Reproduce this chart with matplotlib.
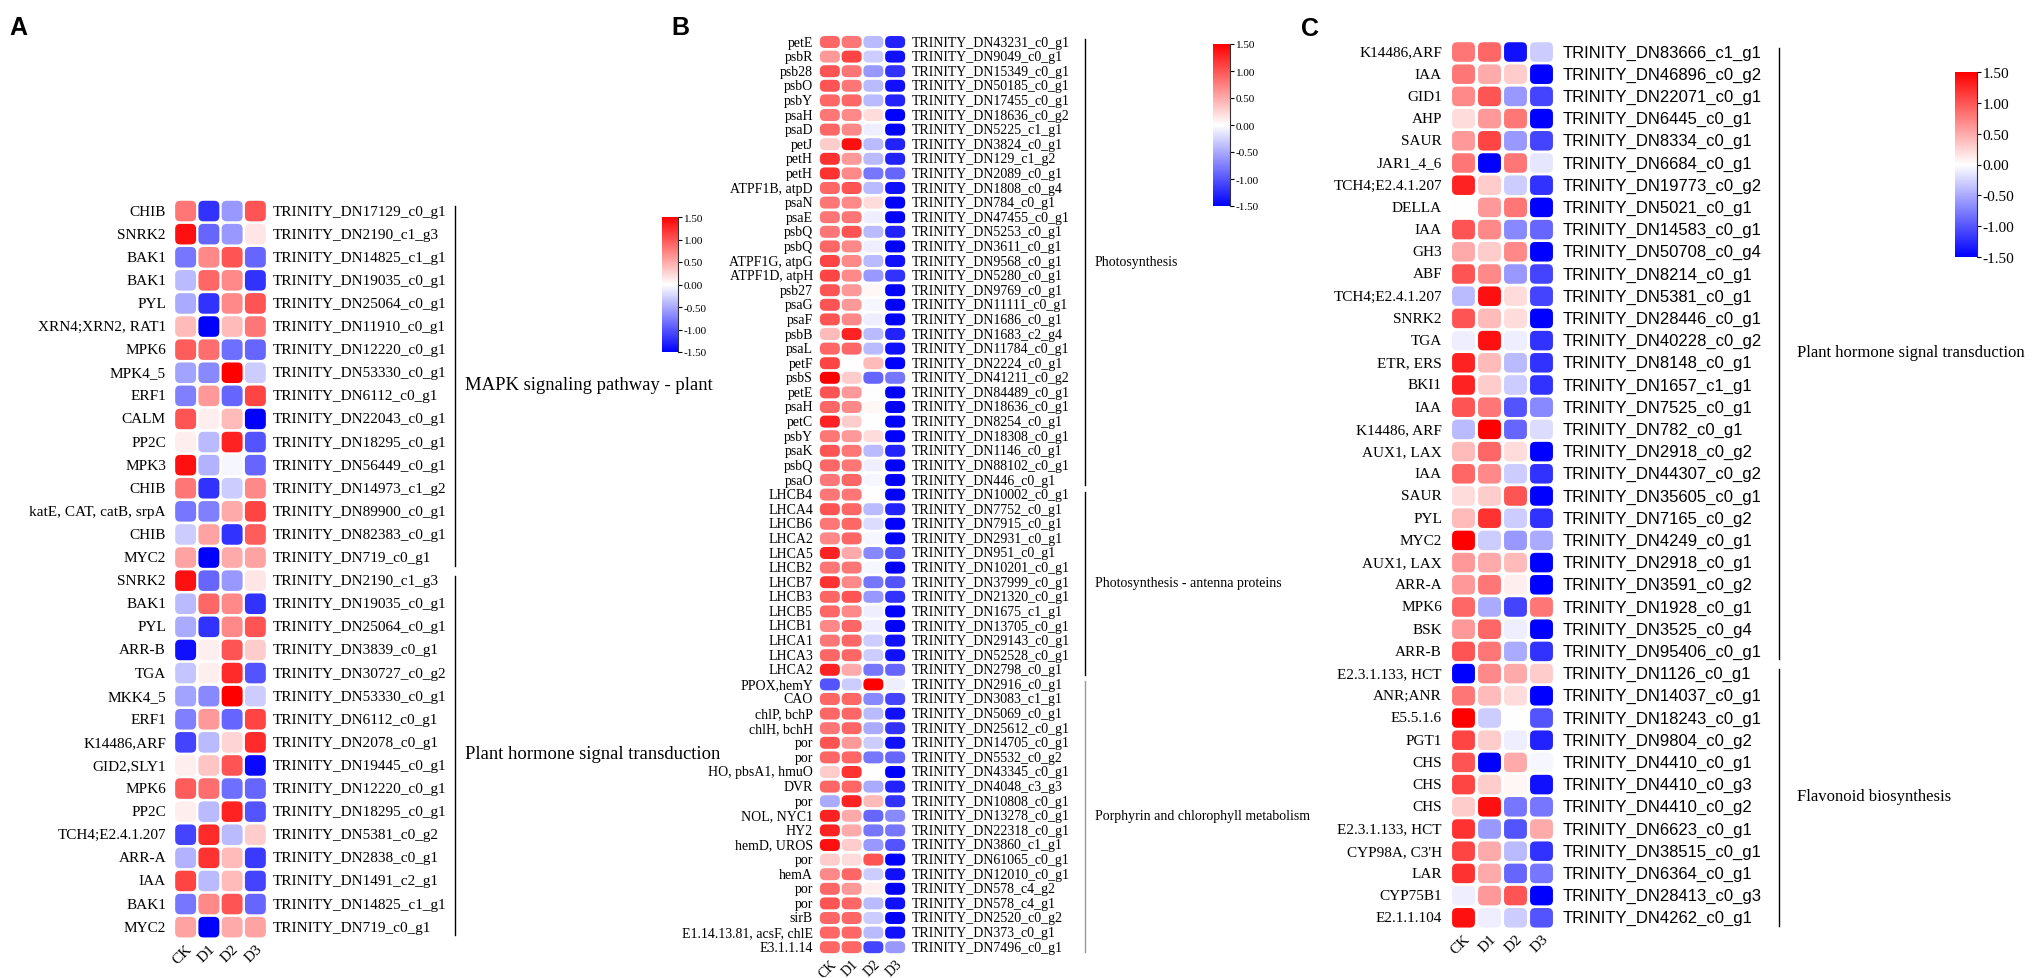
import numpy as np
import matplotlib.pyplot as plt
import matplotlib.transforms as mtransforms
from matplotlib.colors import LinearSegmentedColormap, Normalize
from matplotlib.patches import FancyBboxPatch
from matplotlib.cm import ScalarMappable

plt.rcParams['axes.unicode_minus'] = False
SERIF = 'Liberation Serif'
SANS = 'Liberation Sans'

cols = ['CK', 'D1', 'D2', 'D3']

# ---------------- panel A ----------------
a_genes = ['CHIB', 'SNRK2', 'BAK1', 'BAK1', 'PYL', 'XRN4;XRN2, RAT1', 'MPK6', 'MPK4_5',
           'ERF1', 'CALM', 'PP2C', 'MPK3', 'CHIB', 'katE, CAT, catB, srpA', 'CHIB', 'MYC2',
           'SNRK2', 'BAK1', 'PYL', 'ARR-B', 'TGA', 'MKK4_5', 'ERF1', 'K14486,ARF',
           'GID2,SLY1', 'MPK6', 'PP2C', 'TCH4;E2.4.1.207', 'ARR-A', 'IAA', 'BAK1', 'MYC2']
a_ids = ['DN17129_c0_g1', 'DN2190_c1_g3', 'DN14825_c1_g1', 'DN19035_c0_g1', 'DN25064_c0_g1',
         'DN11910_c0_g1', 'DN12220_c0_g1', 'DN53330_c0_g1', 'DN6112_c0_g1', 'DN22043_c0_g1',
         'DN18295_c0_g1', 'DN56449_c0_g1', 'DN14973_c1_g2', 'DN89900_c0_g1', 'DN82383_c0_g1',
         'DN719_c0_g1', 'DN2190_c1_g3', 'DN19035_c0_g1', 'DN25064_c0_g1', 'DN3839_c0_g1',
         'DN30727_c0_g2', 'DN53330_c0_g1', 'DN6112_c0_g1', 'DN2078_c0_g1', 'DN19445_c0_g1',
         'DN12220_c0_g1', 'DN18295_c0_g1', 'DN5381_c0_g2', 'DN2838_c0_g1', 'DN1491_c2_g1',
         'DN14825_c1_g1', 'DN719_c0_g1']
a_vals = [[0.8, -1.2, -0.6, 1.0], [1.4, -0.9, -0.6, 0.15], [-0.8, 0.7, 1.0, -0.9],
          [-0.4, 0.9, 0.7, -1.2], [-0.5, -1.2, 0.7, 1.0], [0.4, -1.5, 0.4, 0.8],
          [0.95, 0.85, -0.85, -0.9], [-0.55, -0.7, 1.5, -0.3], [-0.75, 0.6, -0.9, 1.1],
          [1.0, 0.1, 0.4, -1.5], [0.1, -0.4, 1.3, -1.0], [1.4, -0.45, -0.05, -0.9],
          [0.8, -1.2, -0.3, 0.7], [-0.8, -0.75, 0.5, 1.1], [-0.3, 0.55, -1.2, 0.95],
          [0.55, -1.5, 0.5, 0.55], [1.4, -0.9, -0.6, 0.15], [-0.4, 0.9, 0.7, -1.2],
          [-0.5, -1.2, 0.7, 1.0], [-1.4, 0.1, 1.0, 0.3], [-0.35, 0.1, 1.25, -1.0],
          [-0.55, -0.7, 1.5, -0.3], [-0.75, 0.6, -0.9, 1.1], [-1.1, -0.4, 0.25, 1.25],
          [0.1, 0.35, 1.0, -1.45], [0.95, 0.85, -0.85, -0.9], [0.1, -0.4, 1.3, -1.0],
          [-1.1, 1.25, -0.4, 0.3], [-0.45, 1.2, 0.4, -1.15], [1.1, -0.4, 0.4, -1.1],
          [-0.8, 0.7, 1.0, -0.9], [0.55, -1.5, 0.5, 0.55]]
a_groups = [('MAPK signaling pathway - plant', 0, 15), ('Plant hormone signal transduction', 16, 31)]

# ---------------- panel B ----------------
b_genes = ['petE', 'psbR', 'psb28', 'psbO', 'psbY', 'psaH', 'psaD', 'petJ', 'petH', 'petH',
           'ATPF1B, atpD', 'psaN', 'psaE', 'psbQ', 'psbQ', 'ATPF1G, atpG', 'ATPF1D, atpH',
           'psb27', 'psaG', 'psaF', 'psbB', 'psaL', 'petF', 'psbS', 'petE', 'psaH', 'petC',
           'psbY', 'psaK', 'psbQ', 'psaO',
           'LHCB4', 'LHCA4', 'LHCB6', 'LHCA2', 'LHCA5', 'LHCB2', 'LHCB7', 'LHCB3', 'LHCB5',
           'LHCB1', 'LHCA1', 'LHCA3', 'LHCA2',
           'PPOX,hemY', 'CAO', 'chlP, bchP', 'chlH, bchH', 'por', 'por', 'HO, pbsA1, hmuO',
           'DVR', 'por', 'NOL, NYC1', 'HY2', 'hemD, UROS', 'por', 'hemA', 'por', 'por', 'sirB',
           'E1.14.13.81, acsF, chlE', 'E3.1.1.14']
b_ids = ['DN43231_c0_g1', 'DN9049_c0_g1', 'DN15349_c0_g1', 'DN50185_c0_g1', 'DN17455_c0_g1',
         'DN18636_c0_g2', 'DN5225_c1_g1', 'DN3824_c0_g1', 'DN129_c1_g2', 'DN2089_c0_g1',
         'DN1808_c0_g4', 'DN784_c0_g1', 'DN47455_c0_g1', 'DN5253_c0_g1', 'DN3611_c0_g1',
         'DN9568_c0_g1', 'DN5280_c0_g1', 'DN9769_c0_g1', 'DN11111_c0_g1', 'DN1686_c0_g1',
         'DN1683_c2_g4', 'DN11784_c0_g1', 'DN2224_c0_g1', 'DN41211_c0_g2', 'DN84489_c0_g1',
         'DN18636_c0_g1', 'DN8254_c0_g1', 'DN18308_c0_g1', 'DN1146_c0_g1', 'DN88102_c0_g1',
         'DN446_c0_g1',
         'DN10002_c0_g1', 'DN7752_c0_g1', 'DN7915_c0_g1', 'DN2931_c0_g1', 'DN951_c0_g1',
         'DN10201_c0_g1', 'DN37999_c0_g1', 'DN21320_c0_g1', 'DN1675_c1_g1', 'DN13705_c0_g1',
         'DN29143_c0_g1', 'DN52528_c0_g1', 'DN2798_c0_g1',
         'DN2916_c0_g1', 'DN3083_c1_g1', 'DN5069_c0_g1', 'DN25612_c0_g1', 'DN14705_c0_g1',
         'DN5532_c0_g2', 'DN43345_c0_g1', 'DN4048_c3_g3', 'DN10808_c0_g1', 'DN13278_c0_g1',
         'DN22318_c0_g1', 'DN3860_c1_g1', 'DN61065_c0_g1', 'DN12010_c0_g1', 'DN578_c4_g2',
         'DN578_c4_g1', 'DN2520_c0_g2', 'DN373_c0_g1', 'DN7496_c0_g1']
b_vals = [[0.9, 0.8, -0.4, -1.3], [0.6, 1.1, -0.3, -1.4], [1.0, 0.8, -0.6, -1.2],
          [1.0, 0.8, -0.4, -1.4], [0.9, 0.9, -0.4, -1.3], [0.8, 0.7, 0.2, -1.5],
          [0.9, 0.7, -0.1, -1.5], [0.3, 1.4, -0.4, -1.3], [1.2, 0.6, -0.4, -1.3],
          [1.2, 0.7, -0.8, -0.9], [0.9, 1.0, -0.4, -1.4], [0.8, 0.7, 0.2, -1.5],
          [0.8, 0.8, -0.1, -1.5], [0.8, 1.0, -0.4, -1.3], [0.9, 0.7, -0.1, -1.5],
          [1.1, 0.7, -0.4, -1.4], [1.1, 0.7, -0.6, -1.2], [1.0, 0.6, 0.05, -1.5],
          [1.0, 0.6, -0.05, -1.5], [1.0, 0.7, -0.1, -1.5], [0.4, 1.3, -0.4, -1.3],
          [0.9, 0.9, -0.4, -1.4], [1.1, 0.0, 0.4, -1.5], [1.5, 0.3, -0.9, -0.8],
          [1.0, 0.6, 0.0, -1.5], [0.9, 0.7, 0.05, -1.5], [1.3, 0.3, 0.0, -1.5],
          [0.8, 0.6, 0.2, -1.5], [1.0, 0.8, -0.4, -1.3], [0.9, 0.8, -0.1, -1.5],
          [0.8, 0.9, -0.05, -1.5],
          [0.8, 0.8, 0.0, -1.5], [1.0, 0.9, -0.4, -1.3], [0.8, 0.9, -0.2, -1.5],
          [0.7, 0.9, -0.05, -1.5], [1.3, 0.5, -0.7, -1.0], [0.8, 0.8, -0.05, -1.5],
          [1.2, 0.7, -0.8, -1.0], [0.9, 1.0, -0.6, -1.2], [0.9, 0.7, -0.1, -1.5],
          [0.7, 0.9, -0.1, -1.5], [0.8, 0.9, -0.3, -1.4], [0.9, 0.9, -0.3, -1.4],
          [1.3, 0.5, -0.8, -0.9],
          [-1.0, -0.3, 1.5, -0.1], [0.9, 0.9, -0.7, -1.1], [0.9, 0.9, -0.4, -1.4],
          [0.8, 0.9, -0.5, -1.2], [1.0, 0.6, -0.3, -1.4], [0.9, 0.9, -0.8, -0.9],
          [0.3, 1.2, 0.0, -1.5], [0.9, 0.9, -0.5, -1.3], [-0.5, 1.3, 0.4, -1.2],
          [1.3, 0.5, -0.9, -0.7], [1.3, 0.5, -0.8, -0.8], [1.4, 0.3, -0.6, -1.0],
          [0.3, 0.2, 1.0, -1.5], [0.7, 0.9, -0.3, -1.4], [0.9, 0.6, 0.1, -1.5],
          [1.0, 0.9, -0.4, -1.4], [0.9, 0.9, -0.3, -1.5], [0.9, 0.9, -0.4, -1.4],
          [0.9, 0.9, -1.1, -0.6]]
b_groups = [('Photosynthesis', 0, 30), ('Photosynthesis - antenna proteins', 31, 43),
            ('Porphyrin and chlorophyll metabolism', 44, 62)]

# ---------------- panel C ----------------
c_genes = ['K14486,ARF', 'IAA', 'GID1', 'AHP', 'SAUR', 'JAR1_4_6', 'TCH4;E2.4.1.207', 'DELLA',
           'IAA', 'GH3', 'ABF', 'TCH4;E2.4.1.207', 'SNRK2', 'TGA', 'ETR, ERS', 'BKI1', 'IAA',
           'K14486, ARF', 'AUX1, LAX', 'IAA', 'SAUR', 'PYL', 'MYC2', 'AUX1, LAX', 'ARR-A',
           'MPK6', 'BSK', 'ARR-B',
           'E2.3.1.133, HCT', 'ANR;ANR', 'E5.5.1.6', 'PGT1', 'CHS', 'CHS', 'CHS',
           'E2.3.1.133, HCT', "CYP98A, C3'H", 'LAR', 'CYP75B1', 'E2.1.1.104']
c_ids = ['DN83666_c1_g1', 'DN46896_c0_g2', 'DN22071_c0_g1', 'DN6445_c0_g1', 'DN8334_c0_g1',
         'DN6684_c0_g1', 'DN19773_c0_g2', 'DN5021_c0_g1', 'DN14583_c0_g1', 'DN50708_c0_g4',
         'DN8214_c0_g1', 'DN5381_c0_g1', 'DN28446_c0_g1', 'DN40228_c0_g2', 'DN8148_c0_g1',
         'DN1657_c1_g1', 'DN7525_c0_g1', 'DN782_c0_g1', 'DN2918_c0_g2', 'DN44307_c0_g2',
         'DN35605_c0_g1', 'DN7165_c0_g2', 'DN4249_c0_g1', 'DN2918_c0_g1', 'DN3591_c0_g2',
         'DN1928_c0_g1', 'DN3525_c0_g4', 'DN95406_c0_g1',
         'DN1126_c0_g1', 'DN14037_c0_g1', 'DN18243_c0_g1', 'DN9804_c0_g2', 'DN4410_c0_g1',
         'DN4410_c0_g3', 'DN4410_c0_g2', 'DN6623_c0_g1', 'DN38515_c0_g1', 'DN6364_c0_g1',
         'DN28413_c0_g3', 'DN4262_c0_g1']
c_vals = [[0.8, 0.9, -1.4, -0.3], [0.8, 0.5, 0.3, -1.5], [0.7, 1.0, -0.6, -1.1],
          [0.2, 0.6, 0.8, -1.5], [0.6, 1.1, -0.6, -1.1], [0.8, -1.5, 0.8, -0.15],
          [1.3, 0.3, -0.3, -1.2], [0.0, 0.6, 0.8, -1.5], [1.0, 0.7, -0.7, -0.9],
          [0.5, 0.3, 0.7, -1.5], [1.0, 0.7, -0.6, -1.1], [-0.4, 1.4, 0.2, -1.1],
          [1.0, 0.4, 0.2, -1.5], [-0.1, 1.4, -0.1, -1.2], [1.3, 0.4, -0.4, -1.2],
          [1.3, 0.3, -0.3, -1.2], [1.0, 0.8, -1.0, -0.7], [-0.4, 1.5, -0.9, -0.2],
          [0.4, 0.9, 0.2, -1.5], [0.9, 0.7, -0.3, -1.2], [0.2, 0.3, 1.0, -1.5],
          [0.4, 1.2, -0.3, -1.2], [1.5, -0.3, -0.6, -0.5], [0.6, 0.5, 0.4, -1.5],
          [0.6, 0.8, 0.1, -1.5], [0.9, -0.5, -1.1, 0.8], [0.6, 0.9, -0.1, -1.5],
          [1.0, 0.8, -0.5, -1.2],
          [-1.5, 0.7, 0.5, 0.3], [0.8, 0.4, 0.2, -1.5], [1.5, -0.3, 0.0, -1.0],
          [1.1, 0.3, -0.1, -1.3], [1.0, -1.5, 0.5, -0.05], [1.1, 0.3, 0.05, -1.4],
          [0.3, 1.4, -0.8, -0.8], [1.2, -0.6, -1.0, 0.5], [1.1, 0.5, -0.4, -1.2],
          [1.2, 0.5, -0.9, -0.8], [-0.1, 0.6, 1.0, -1.5], [1.4, -0.1, -0.3, -1.0]]
c_groups = [('Plant hormone signal transduction', 0, 27), ('Flavonoid biosynthesis', 28, 39)]

W, H = 2033, 979
fig = plt.figure(figsize=(W / 100, H / 100), dpi=100)
cmap = LinearSegmentedColormap.from_list('bwr_heat', ['#0000FF', '#FFFFFF', '#FF0000'])
norm = Normalize(-1.5, 1.5)


def px_axes(x0, y0, x1, y1):
    return fig.add_axes([x0 / W, 1 - y1 / H, (x1 - x0) / W, (y1 - y0) / H])


def panel(box, vals, genes, ids, groups, cw, ch, fs_gene, fs_id, fs_path, id_font,
          gene_x, id_x, br_x, path_x, br_colors, fs_col):
    ax = px_axes(*box)
    n = len(vals)
    pxx = (box[2] - box[0]) / 4
    pxy = (box[3] - box[1]) / n
    ax.set_xlim(-0.5, 3.5)
    ax.set_ylim(n - 0.5, -0.5)
    for i, row in enumerate(vals):
        for j, v in enumerate(row):
            ax.add_patch(FancyBboxPatch((j - cw / 2, i - ch / 2), cw, ch,
                                        boxstyle='round,pad=0,rounding_size=%f' % (5.0 / pxx),
                                        mutation_aspect=pxx / pxy,
                                        fc=cmap(norm(v)), ec='none'))
    for s in ax.spines.values():
        s.set_visible(False)
    ax.set_yticks([])
    ax.set_xticks(range(4))
    ax.set_xticklabels(cols, rotation=45, ha='right', va='top', rotation_mode='anchor',
                       fontsize=fs_col, family=SERIF)
    ax.tick_params(axis='x', length=0, pad=2)
    tr = mtransforms.blended_transform_factory(fig.transFigure, ax.transData)
    for i in range(n):
        ax.text(gene_x / W, i, genes[i], transform=tr, ha='right', va='center',
                fontsize=fs_gene, family=SERIF)
        ax.text(id_x / W, i, 'TRINITY_' + ids[i], transform=tr, ha='left', va='center',
                fontsize=fs_id, family=id_font)
    for (name, g0, g1), c in zip(groups, br_colors):
        ax.plot([br_x / W, br_x / W], [g0 - 0.2, g1 + 0.35], transform=tr, color=c,
                lw=1.0, clip_on=False)
        ax.text(path_x / W, (g0 + g1) / 2, name, transform=tr, ha='left', va='center',
                fontsize=fs_path, family=SERIF)
    return ax


def colorbar(box, fs):
    cax = px_axes(*box)
    cb = fig.colorbar(ScalarMappable(norm=norm, cmap=cmap), cax=cax,
                      ticks=[1.5, 1.0, 0.5, 0.0, -0.5, -1.0, -1.5], format='%.2f')
    cb.outline.set_visible(False)
    cax.plot([1, 1], [0, 1], transform=cax.transAxes, color='#333333', lw=0.8, clip_on=False)
    cax.tick_params(length=3, width=0.8, pad=1, labelsize=fs)
    for t in cax.get_yticklabels():
        t.set_family(SERIF)
    return cb


panel((174, 200.5, 267, 939.7), a_vals, a_genes, a_ids, a_groups, 0.9, 0.89,
      11, 11, 13.4, SERIF, 166, 273, 455, 465, ['k', 'k'], 11)
panel((819, 35.7, 906, 955.5), b_vals, b_genes, b_ids, b_groups, 0.92, 0.82,
      10, 10, 10, SERIF, 813, 912, 1085, 1095, ['k', 'k', '#999999'], 10)
panel((1450.5, 41.9, 1554.5, 929.9), c_vals, c_genes, c_ids, c_groups, 0.88, 0.88,
      11, 12, 12, SANS, 1442, 1563, 1779, 1797, ['k', 'k'], 11)

colorbar((662, 218, 678, 353), 8)
colorbar((1213, 45, 1230, 207), 8)
colorbar((1955, 73, 1977, 258), 11)

for lab, x, y in [('A', 18, 28), ('B', 680, 28), ('C', 1310, 29)]:
    fig.text(x / W, 1 - y / H, lab, fontsize=18, fontweight='bold', family=SANS,
             ha='center', va='center')

fig.savefig('out.png', dpi=100)
